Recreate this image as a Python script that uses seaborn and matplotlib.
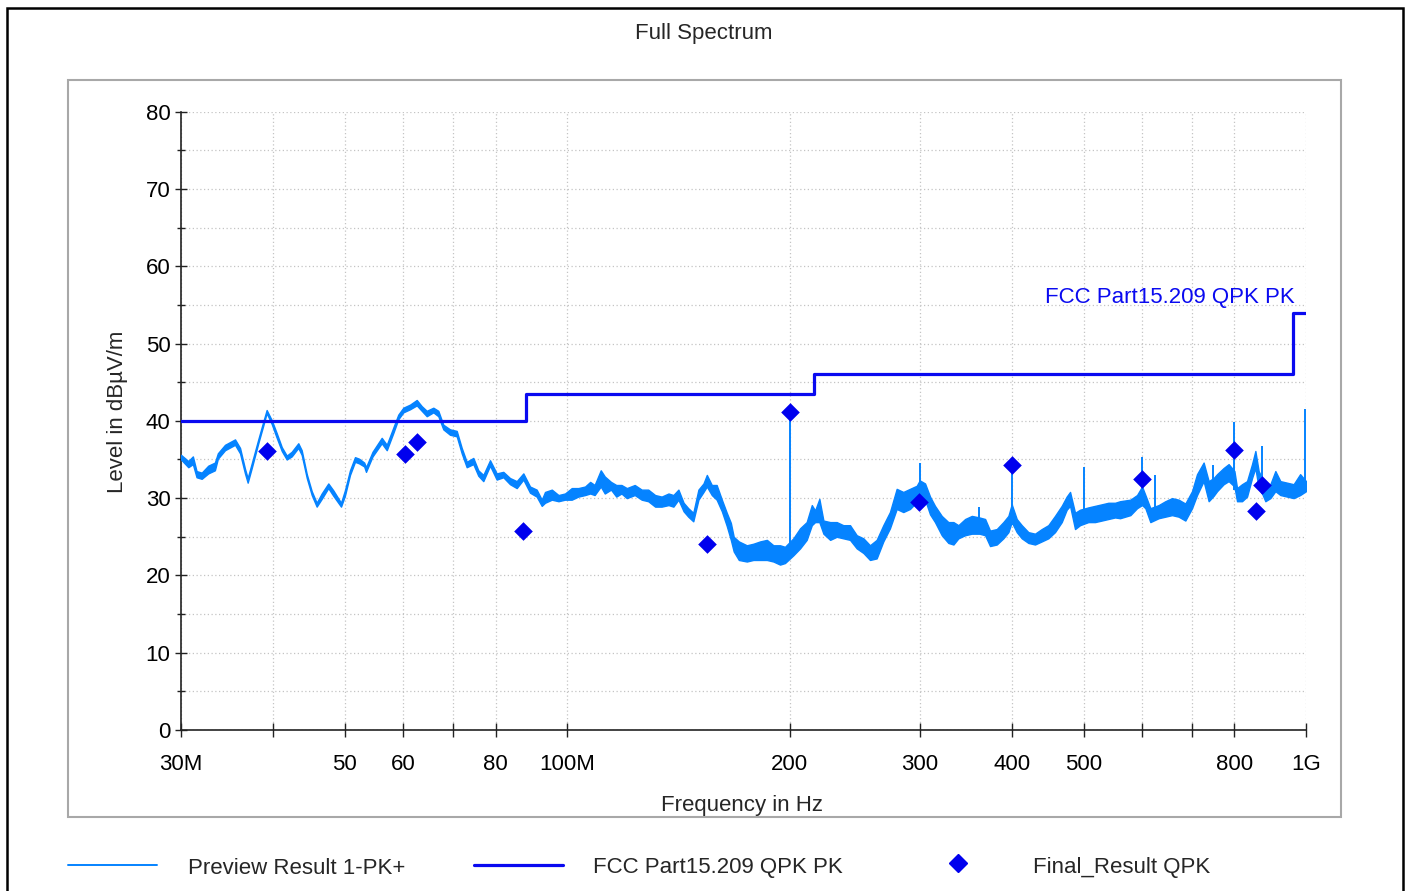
import matplotlib
matplotlib.use("Agg")
import matplotlib.pyplot as plt
import seaborn as sns
from matplotlib.patches import Rectangle
from matplotlib.lines import Line2D
from matplotlib.ticker import FixedLocator, MultipleLocator, NullLocator

# ---- Preview Result 1-PK+ : peak trace envelope (MHz, dBuV/m) ----
trace_freq = [
    30.0, 30.69, 31.13, 31.49, 32.0, 32.66, 33.34, 33.65, 34.41, 35.5,
    36.06, 36.62, 36.93, 37.4, 38.17, 38.77, 39.18, 39.8, 40.43, 41.07,
    41.71, 42.36, 43.24, 43.7, 44.4, 45.09, 45.79, 46.51, 47.48, 48.23,
    49.4, 50.0, 50.8, 51.6, 52.26, 53.1, 53.4, 54.5, 56.08, 56.97,
    58.13, 59.05, 59.99, 61.26, 62.55, 63.53, 64.53, 65.87, 66.9, 67.95,
    69.38, 70.85, 71.96, 73.09, 74.61, 75.78, 76.97, 78.6, 80.25, 81.92,
    83.65, 85.42, 87.2, 89.04, 90.9, 92.35,
    93.3, 95.3, 97.3, 99.3, 101.4, 103.5, 105.7, 107.4, 108.9, 111.0,
    112.4, 114.6, 116.5, 118.4, 120.4, 123.4, 126.1, 128.7, 131.5, 134.2,
    137.1, 139.2, 141.4, 143.7, 145.8, 148.1, 150.5, 152.9, 154.5, 156.9,
    159.3, 161.9, 164.4, 166.5, 168.0, 170.7, 175.0, 178.6, 182.4, 186.3,
    190.1, 194.1, 197.1, 202.3, 206.6, 210.9, 214.3, 216.5, 219.4, 222.2,
    226.9, 231.6, 236.4, 241.4, 246.5, 251.7, 256.9, 262.3, 267.8, 273.4,
    279.2, 285.0, 291.0, 297.2, 300.0, 305.0, 309.8, 314.6, 321.3, 328.0,
    333.2, 338.4, 345.6, 352.9, 361.3, 367.8, 373.5, 381.4, 389.3, 395.5,
    399.6, 405.9, 412.3, 420.9, 429.7, 438.8, 447.9, 457.3, 467.0, 474.3,
    479.3, 486.8, 494.4, 507.4, 518.1, 529.1, 540.1, 551.5, 560.1, 578.4,
    590.6, 599.9, 606.1, 615.6, 631.7, 645.0, 658.6, 672.3, 686.5, 701.0,
    712.0, 726.8, 738.3, 749.9, 757.9, 773.6, 785.7, 800.0, 806.6, 819.2,
    832.1, 845.2, 854.0, 862.8, 873.0, 881.0, 894.8, 908.9, 923.2, 942.6,
    962.2, 981.9, 1000.0,
]
trace_hi = [
    35.6, 34.8, 35.4, 33.5, 33.3, 34.2, 34.6, 35.8, 36.9, 37.6,
    36.5, 33.8, 32.6, 34.5, 37.6, 39.9, 41.4, 40.1, 38.4, 36.6,
    35.5, 36.0, 37.1, 36.2, 33.1, 30.9, 29.4, 30.6, 31.9, 31.0,
    29.4, 31.0, 33.6, 35.3, 35.1, 34.6, 34.0, 36.0, 37.8, 36.9,
    39.1, 40.8, 41.7, 42.1, 42.7, 41.9, 41.3, 41.7, 41.3, 39.5,
    38.9, 38.7, 36.5, 34.7, 35.2, 33.6, 33.0, 34.9, 33.2, 33.4,
    32.6, 32.2, 33.2, 31.5, 31.1, 29.8,
    30.8, 31.1, 30.4, 30.6, 31.3, 31.3, 31.5, 32.1, 31.7, 33.6,
    32.8, 32.1, 31.7, 31.7, 31.3, 31.7, 31.1, 31.1, 30.4, 30.2,
    30.6, 30.4, 31.1, 29.4, 28.7, 28.1, 31.1, 31.9, 33.0, 31.7,
    31.7, 29.8, 28.1, 26.8, 25.0, 24.4, 23.9, 24.1, 24.4, 24.6,
    23.9, 23.9, 23.7, 24.8, 26.1, 26.9, 29.1, 28.4, 29.9, 27.1,
    26.9, 26.9, 26.5, 26.5, 25.2, 24.8, 23.9, 24.6, 26.5, 28.2,
    31.2, 30.8, 31.2, 31.6, 32.3, 31.9, 30.2, 29.0, 27.7, 26.9,
    26.9, 26.5, 27.3, 27.7, 27.5, 27.3, 25.8, 26.0, 26.9, 27.7,
    29.2, 27.3, 26.5, 25.6, 25.4, 26.0, 26.5, 27.7, 29.0, 30.2,
    30.8, 28.1, 28.5, 28.8, 29.0, 29.2, 29.4, 29.4, 29.6, 29.8,
    30.4, 31.5, 30.4, 28.7, 29.1, 29.6, 30.0, 29.8, 29.3, 30.9,
    33.1, 34.6, 32.2, 32.6, 33.1, 33.9, 34.4, 33.5, 31.3, 31.8,
    32.2, 34.4, 36.1, 33.5, 32.5, 31.3, 31.8, 33.5, 32.2, 32.0,
    31.8, 33.1, 32.2,
]
trace_lo = [
    35.0, 34.0, 34.4, 32.7, 32.5, 33.2, 33.6, 35.1, 36.2, 36.9,
    35.8, 33.2, 32.0, 33.9, 37.1, 39.4, 41.0, 39.6, 37.8, 36.1,
    35.0, 35.4, 36.5, 35.6, 32.6, 30.4, 28.9, 29.9, 31.3, 30.3,
    28.9, 30.3, 33.0, 34.7, 34.5, 34.1, 33.4, 35.4, 37.1, 36.2,
    38.4, 40.2, 41.1, 41.5, 42.0, 41.3, 40.6, 41.1, 40.6, 38.9,
    38.2, 38.0, 35.8, 34.0, 34.4, 32.9, 32.2, 34.2, 32.4, 32.7,
    31.8, 31.3, 32.4, 30.7, 30.2, 29.0,
    29.4, 29.8, 29.6, 29.8, 29.8, 30.2, 30.4, 30.6, 30.4, 31.5,
    30.6, 31.1, 30.2, 30.6, 30.0, 30.4, 29.8, 29.6, 28.9, 28.9,
    29.1, 28.9, 29.8, 28.3, 27.6, 27.0, 29.8, 30.8, 31.5, 30.4,
    29.8, 28.3, 26.4, 24.6, 23.1, 22.0, 21.8, 22.0, 22.0, 22.0,
    21.8, 21.4, 21.6, 22.6, 23.5, 24.6, 26.5, 26.9, 26.9, 25.4,
    24.6, 25.0, 24.8, 24.6, 23.5, 22.9, 22.0, 22.2, 24.4, 26.1,
    28.6, 28.2, 28.6, 29.5, 30.2, 29.8, 27.9, 26.9, 25.2, 24.2,
    24.0, 24.8, 25.2, 25.4, 25.4, 25.2, 23.8, 24.0, 24.8, 25.6,
    26.9, 25.6, 24.8, 24.2, 24.0, 24.4, 24.8, 25.6, 26.9, 28.5,
    29.0, 26.0, 26.5, 26.9, 26.9, 27.1, 27.3, 27.5, 27.4, 27.8,
    28.7, 29.1, 28.7, 26.9, 27.4, 27.6, 27.8, 27.6, 27.1, 28.7,
    30.4, 32.2, 29.6, 30.3, 30.9, 31.8, 32.2, 31.5, 29.6, 29.6,
    30.2, 32.6, 33.9, 31.3, 30.5, 29.6, 30.0, 30.9, 30.4, 30.2,
    30.0, 30.4, 30.9,
]

# narrow-band spurs on the peak trace
spur_freq = [200.0, 300.0, 361.0, 400.0, 500.0, 600.0, 624.0, 749.0, 800.0, 873.0, 997.0]
spur_top = [41.1, 34.6, 28.8, 34.2, 34.0, 35.3, 33.0, 34.3, 39.9, 36.7, 41.5]
spur_base = [22.5, 30.0, 26.0, 26.5, 27.0, 29.0, 27.5, 30.5, 31.0, 30.5, 31.0]

# ---- FCC Part15.209 QPK limit (steps) ----
limit_freq = [30.0, 88.0, 216.0, 960.0, 1000.0]
limit_level = [40.0, 43.5, 46.0, 54.0, 54.0]

# ---- Final_Result QPK ----
qpk_freq = [39.2, 60.3, 62.6, 87.1, 154.6, 200.0, 299.4, 400.0, 600.0, 799.5, 856.0, 872.0]
qpk_level = [36.1, 35.7, 37.2, 25.8, 24.1, 41.1, 29.5, 34.3, 32.5, 36.2, 28.3, 31.7]

# ---- axis ticks ----
x_ticks = [30, 40, 50, 60, 70, 80, 100, 200, 300, 400, 500, 600, 700, 800, 1000]
x_tick_labels = ["30M", "", "50", "60", "", "80", "100M", "200", "300", "400",
                 "500", "", "", "800", "1G"]
y_ticks = [0, 10, 20, 30, 40, 50, 60, 70, 80]

TRACE = "#0583FF"
LIMIT = "#0A0AF0"
MARK = "#0000EE"
GRID = "#C4C4C4"
FS = 16

sns.set_theme(style="white")
plt.rcParams["font.family"] = ["Liberation Sans", "DejaVu Sans"]

W, H = 1408, 891
fig = plt.figure(figsize=(W / 100, H / 100), dpi=100)
fig.patch.set_facecolor("white")


def fx(px):
    return px / W


def fy(py):
    return 1 - py / H


ax = fig.add_axes([fx(181), fy(730), fx(1306) - fx(181), fy(111.7) - fy(730)])
ax.set_facecolor("white")
ax.set_xscale("log")

# peak trace band and spurs
ax.fill_between(trace_freq, trace_lo, trace_hi, color=TRACE, edgecolor=TRACE,
                linewidth=1.0, zorder=3)
ax.vlines(spur_freq, spur_base, spur_top, color=TRACE, linewidth=1.4, zorder=3)

# limit line
sns.lineplot(x=limit_freq, y=limit_level, drawstyle="steps-post", color=LIMIT,
             linewidth=2.3, ax=ax, zorder=4, estimator=None)
ax.text(965, 55.9, "FCC Part15.209 QPK PK", color=LIMIT, fontsize=16,
        ha="right", va="center", zorder=6)

# final quasi-peak results
sns.scatterplot(x=qpk_freq, y=qpk_level, marker="D", s=90, color=MARK,
                edgecolor=MARK, linewidth=0, ax=ax, zorder=5)

ax.set_xlim(30, 1000)
ax.set_ylim(0, 80)

ax.xaxis.set_major_locator(FixedLocator(x_ticks))
ax.xaxis.set_minor_locator(NullLocator())
ax.set_xticklabels(x_tick_labels)
ax.yaxis.set_major_locator(FixedLocator(y_ticks))
ax.yaxis.set_minor_locator(MultipleLocator(5))

ax.tick_params(axis="x", which="major", direction="inout", length=10, width=1.0,
               color="#222222", labelsize=FS, pad=12, labelcolor="black")
ax.tick_params(axis="y", which="major", direction="inout", length=9, width=1.0,
               color="#222222", labelsize=FS, pad=3, labelcolor="black", left=True)
ax.tick_params(axis="y", which="minor", direction="inout", length=6, width=1.0,
               color="#222222", left=True)
ax.tick_params(axis="x", bottom=True)

ax.grid(True, axis="x", which="major", color=GRID, linestyle=(0, (1, 2)), linewidth=0.9)
ax.grid(True, axis="y", which="both", color=GRID, linestyle=(0, (1, 2)), linewidth=0.9)
ax.set_axisbelow(True)

for side in ("top", "right"):
    ax.spines[side].set_visible(False)
for side in ("left", "bottom"):
    ax.spines[side].set_color("#222222")
    ax.spines[side].set_linewidth(1.2)
ax.set_xlabel("")
ax.set_ylabel("")

# titles and axis captions
fig.text(fx(704), fy(34), "Full Spectrum", ha="center", va="center", fontsize=FS)
fig.text(fx(118), fy(412), "Level in dBµV/m", ha="center", va="center",
         rotation=90, fontsize=FS)
fig.text(fx(742), fy(806), "Frequency in Hz", ha="center", va="center", fontsize=FS)

# frames
fig.add_artist(Rectangle((fx(68), fy(817)), fx(1341) - fx(68), fy(80) - fy(817),
                         transform=fig.transFigure, fill=False,
                         edgecolor="#A8A8A8", linewidth=1.5))
fig.add_artist(Rectangle((fx(7), -0.05), fx(1403) - fx(7), fy(8) + 0.05,
                         transform=fig.transFigure, fill=False,
                         edgecolor="black", linewidth=1.8, clip_on=False))

# legend row
ly = fy(865)
fig.add_artist(Line2D([fx(68), fx(157)], [ly, ly], color=TRACE, linewidth=1.4,
                      transform=fig.transFigure))
fig.text(fx(188), fy(868), "Preview Result 1-PK+", ha="left", va="center", fontsize=FS)
fig.add_artist(Line2D([fx(474), fx(563)], [ly, ly], color=LIMIT, linewidth=2.3,
                      transform=fig.transFigure))
fig.text(fx(593), fy(868), "FCC Part15.209 QPK PK", ha="left", va="center", fontsize=FS)
fig.add_artist(Line2D([fx(958)], [fy(863)], color=MARK, marker="D", markersize=9.5,
                      linestyle="none", transform=fig.transFigure))
fig.text(fx(1033), fy(868), "Final_Result QPK", ha="left", va="center", fontsize=FS)

fig.savefig("out.png", dpi=100, facecolor="white")
